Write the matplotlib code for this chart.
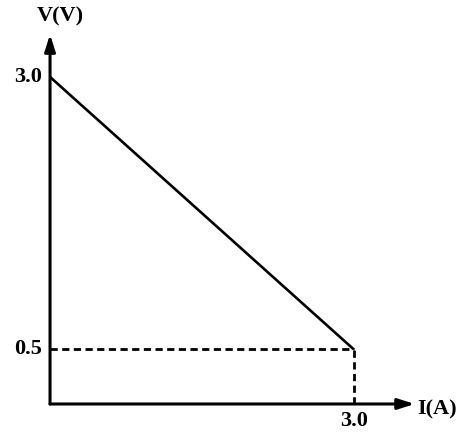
import matplotlib
matplotlib.use('Agg')
import matplotlib.pyplot as plt

plt.rcParams['font.family'] = ['Liberation Serif', 'DejaVu Serif']

# 数据：U-I 图线端点
current = [0.0, 3.0]     # I (A)
voltage = [3.0, 0.5]     # V (V)
x_tick_vals = [3.0]
x_tick_labels = ['3.0']
y_tick_vals = [3.0, 0.5]
y_tick_labels = ['3.0', '0.5']

fig = plt.figure(figsize=(4.57, 4.32), dpi=100)
ax = fig.add_axes([0, 0, 1, 1])
ax.set_xlim(-0.494, 4.018)
ax.set_ylim(-0.257, 3.706)
ax.axis('off')

# 坐标轴（带箭头）
x_end, y_end = 3.6, 3.39
arrow = dict(arrowstyle='-|>,head_length=1.0,head_width=0.32',
             color='black', lw=2.2, shrinkA=0, shrinkB=0)
ax.annotate('', xy=(x_end, 0), xytext=(0, 0), arrowprops=arrow)
ax.annotate('', xy=(0, y_end), xytext=(0, 0), arrowprops=arrow)
ax.text(x_end + 0.03, -0.05, 'I(A)', fontsize=16, fontweight='bold', va='center', ha='left')
ax.text(0.1, y_end + 0.07, 'V(V)', fontsize=16, fontweight='bold', va='bottom', ha='center')

# 图线
ax.plot(current, voltage, color='black', lw=1.9, solid_capstyle='butt')

# 虚线
ax.plot([0, current[-1]], [voltage[-1], voltage[-1]], color='black', lw=2,
        linestyle=(0, (2.6, 1.6)))
ax.plot([current[-1], current[-1]], [0, voltage[-1]], color='black', lw=2,
        linestyle=(0, (2.6, 1.6)))

# 刻度标签
for v, lab in zip(x_tick_vals, x_tick_labels):
    ax.text(v, -0.06, lab, fontsize=16, fontweight='bold', ha='center', va='top')
for v, lab in zip(y_tick_vals, y_tick_labels):
    ax.text(-0.08, v, lab, fontsize=16, fontweight='bold', ha='right', va='center')

fig.savefig('out.png', dpi=100, facecolor='white')
